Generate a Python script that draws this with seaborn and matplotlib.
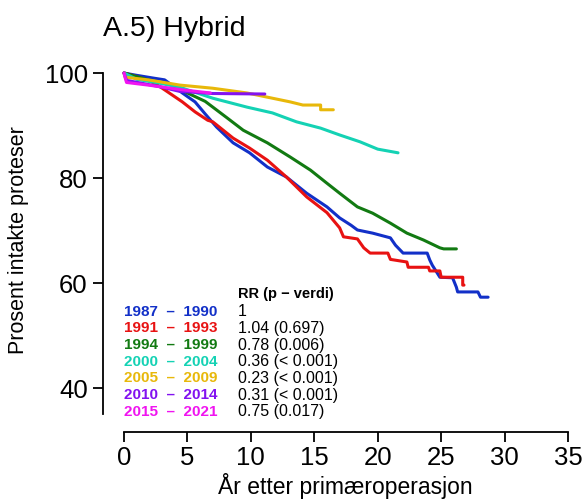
import numpy as np
import pandas as pd
import matplotlib
matplotlib.use("Agg")
import matplotlib.pyplot as plt
import seaborn as sns

# ---- data ----
groups = ["1987 – 1990", "1991 – 1993", "1994 – 1999", "2000 – 2004",
          "2005 – 2009", "2010 – 2014", "2015 – 2021"]
rr_text = ["1", "1.04 (0.697)", "0.78 (0.006)", "0.36 (< 0.001)",
           "0.23 (< 0.001)", "0.31 (< 0.001)", "0.75 (0.017)"]
colors = ["#1230C8", "#E81212", "#127A12", "#14D2B4", "#E8B80A", "#8212F0", "#F014F0"]

x_8790 = [0, 0.9, 2.4, 3.2, 4.0, 4.6, 5.6, 6.4, 7.3, 8.6, 9.9, 11.3, 12.8, 14.4, 16.0, 17.0,
          17.9, 18.4, 19.6, 21.0, 21.4, 22.0, 23.9, 24.1, 24.3, 24.9, 25.9, 26.2, 26.3, 27.9, 28.1, 28.7]
y_8790 = [100, 99.6, 99.0, 98.7, 97.3, 96.2, 94.5, 92.2, 89.7, 86.7, 84.8, 82.1, 80.2, 77.1, 74.5, 72.4,
          71.0, 70.1, 69.5, 68.6, 67.2, 65.7, 65.7, 64.4, 63.4, 61.1, 61.0, 59.2, 58.3, 58.3, 57.3, 57.3]

x_9193 = [0, 1.4, 2.4, 3.2, 4.6, 5.6, 6.6, 7.0, 8.6, 9.9, 11.3, 12.8, 14.4, 16.0, 17.0, 17.3,
          18.4, 18.9, 19.4, 20.8, 21.0, 22.3, 22.4, 24.0, 24.1, 24.9, 25.0, 26.7, 26.7, 26.8]
y_9193 = [100, 99.0, 98.1, 96.8, 94.5, 92.6, 91.0, 90.7, 87.6, 85.7, 83.4, 80.2, 76.4, 73.4, 70.5, 68.8,
          68.4, 66.7, 65.7, 65.7, 64.5, 64.0, 63.0, 63.0, 62.3, 62.3, 61.1, 61.1, 59.6, 59.6]

x_9499 = [0, 1.9, 3.8, 5.0, 6.4, 8.1, 9.4, 11.3, 13.1, 14.7, 16.0, 17.0, 18.4, 19.6, 21.0,
          22.3, 23.6, 24.9, 25.2, 26.2]
y_9499 = [100, 98.7, 97.7, 96.2, 94.6, 91.5, 89.1, 86.7, 84.0, 81.5, 79.0, 77.1, 74.5, 73.3, 71.4,
          69.5, 68.2, 66.7, 66.5, 66.5]

x_0004 = [0, 1.0, 2.5, 4.4, 5.5, 7.0, 9.7, 11.7, 13.6, 15.5, 17.0, 18.6, 20.0, 21.6]
y_0004 = [100, 98.8, 98.2, 97.3, 96.4, 95.2, 93.5, 92.4, 90.7, 89.5, 88.2, 86.9, 85.5, 84.8]

x_0509 = [0, 0.1, 1.9, 4.4, 7.0, 9.7, 11.3, 13.1, 14.1, 15.5, 15.5, 16.5]
y_0509 = [100, 99.2, 98.7, 97.7, 97.1, 96.2, 95.4, 94.5, 93.9, 93.9, 93.0, 93.0]

x_1014 = [0, 0.2, 2.8, 4.4, 7.0, 11.1]
y_1014 = [100, 98.6, 97.4, 96.5, 96.1, 96.0]

x_1521 = [0, 0.1, 0.2, 1.9, 4.6, 6.8]
y_1521 = [100, 99.0, 98.2, 97.7, 96.8, 96.2]

series_x = [x_8790, x_9193, x_9499, x_0004, x_0509, x_1014, x_1521]
series_y = [y_8790, y_9193, y_9499, y_0004, y_0509, y_1014, y_1521]

frames = []
for g, xs, ys in zip(groups, series_x, series_y):
    frames.append(pd.DataFrame({"year": xs, "pct": ys, "group": g}))
df = pd.concat(frames, ignore_index=True)

# ---- figure ----
sns.set_style("ticks")
plt.rcParams["font.family"] = ["Liberation Sans", "DejaVu Sans"]
plt.rcParams["text.color"] = "black"
plt.rcParams["axes.labelcolor"] = "black"
plt.rcParams["xtick.color"] = "black"
plt.rcParams["ytick.color"] = "black"
plt.rcParams["axes.edgecolor"] = "black"

fig = plt.figure(figsize=(5.84, 4.99), dpi=100)
ax = fig.add_axes([103 / 584, 67 / 499, 481 / 584, 373 / 499])

sns.lineplot(data=df, x="year", y="pct", hue="group", hue_order=groups,
             palette=colors, estimator=None, sort=False, linewidth=2.2,
             legend=False, ax=ax)

ax.set_xlim(-1.655, 36.26)
ax.set_ylim(31.62, 102.67)
ax.set_xticks([0, 5, 10, 15, 20, 25, 30, 35])
ax.set_yticks([40, 60, 80, 100])
ax.tick_params(axis="both", labelsize=18.5, width=1.3, length=7,
               color="black", labelcolor="black")
ax.tick_params(axis="x", pad=3)
ax.tick_params(axis="y", pad=4)
for side in ["top", "right"]:
    ax.spines[side].set_visible(False)
ax.spines["left"].set_bounds(35, 100)
ax.spines["bottom"].set_bounds(0, 35)
for side in ["left", "bottom"]:
    ax.spines[side].set_linewidth(1.3)
    ax.spines[side].set_color("black")

ax.set_xlabel("År etter primæroperasjon", fontsize=16.5)
ax.set_ylabel("Prosent intakte proteser", fontsize=15.5)
ax.xaxis.set_label_coords((345 - 103) / 481, (432 - 486) / 373)
ax.xaxis.label.set_verticalalignment("center")
ax.yaxis.set_label_coords((19 - 103) / 481, (432 - 240) / 373)
ax.yaxis.label.set_verticalalignment("center")

fig.text(103 / 584, 1 - 36 / 499, "A.5) Hybrid", fontsize=20.5, ha="left", va="baseline")

# legend-like text block
y0 = 54.53
dy = 3.175
ax.text(8.99, 57.9, "RR (p − verdi)", fontsize=10.5, fontweight="bold", ha="left", va="center")
for i, (g, r, c) in enumerate(zip(groups, rr_text, colors)):
    yy = y0 - i * dy
    ax.text(0.0, yy, g.replace(" – ", "  –  "), fontsize=11, fontweight="bold",
            color=c, ha="left", va="center")
    ax.text(8.99, yy, r, fontsize=11.5, ha="left", va="center")

fig.savefig("out.png", dpi=100)
